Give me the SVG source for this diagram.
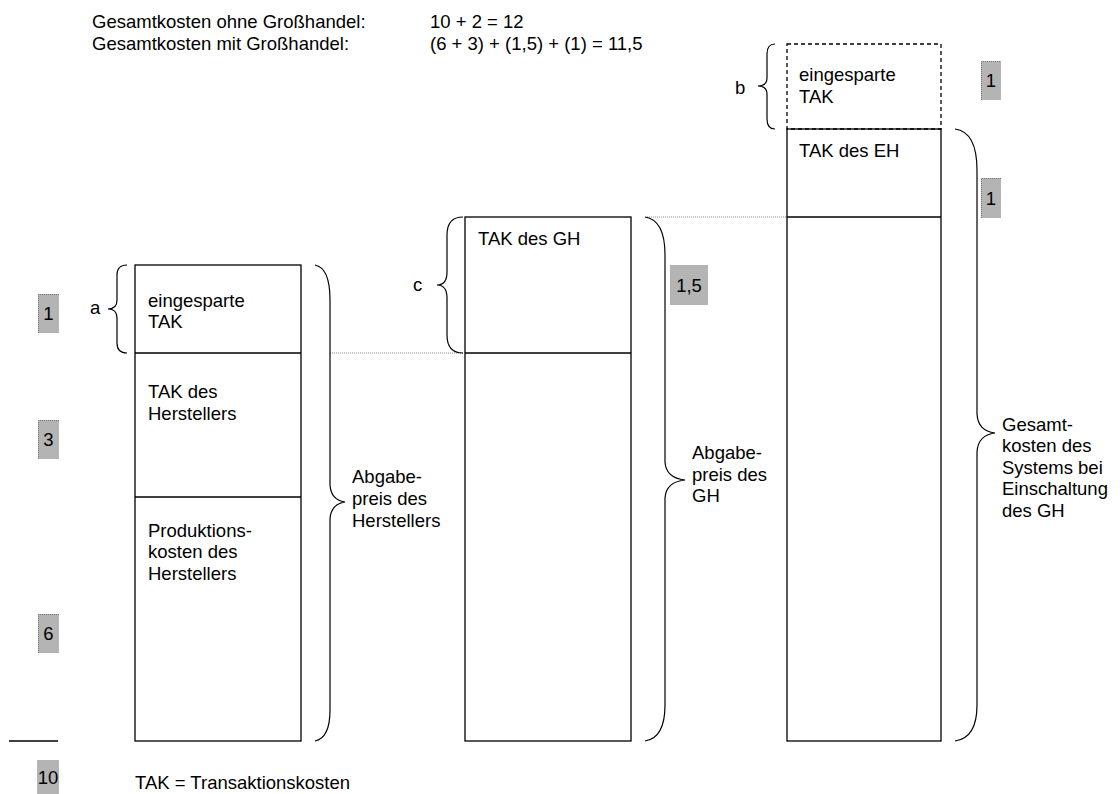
<svg xmlns="http://www.w3.org/2000/svg" width="1120" height="794" viewBox="0 0 1120 794">
<style>
text{font-family:"Liberation Sans",Arial,sans-serif;font-size:18.5px;fill:#000}
.box{fill:#fff;stroke:#000;stroke-width:1.3}
.dash{fill:none;stroke:#000;stroke-width:1.3;stroke-dasharray:4,3}
.div{stroke:#000;stroke-width:1.3}
.brace{fill:none;stroke:#000;stroke-width:1.2}
.dot{stroke:#888;stroke-width:1;stroke-dasharray:1,1}
.val{fill:#b4b4b4;stroke:none}
.valedge{fill:none;stroke:#777;stroke-width:1;stroke-dasharray:1,1}
.c{text-anchor:middle}
</style>
<rect width="1120" height="794" fill="#fff"/>
<g id="header">
<text x="92" y="28">Gesamtkosten ohne Großhandel:</text>
<text x="92" y="50">Gesamtkosten mit Großhandel:</text>
<text x="430" y="28">10 + 2 = 12</text>
<text x="430" y="50">(6 + 3) + (1,5) + (1) = 11,5</text>
</g>
<g id="connectors">
<line class="dot" x1="330" y1="353" x2="463" y2="353"/>
<line class="dot" x1="647" y1="217" x2="787" y2="217"/>
<path class="brace" d="M127,265 Q117,265 117,275 L117,300 Q117,309 108,309 Q117,309 117,318 L117,343 Q117,353 127,353"/>
<path class="brace" d="M463,217 Q447,217 447,235 L447,272 Q447,285 437,285 Q447,285 447,298 L447,335 Q447,353 463,353"/>
<path class="brace" d="M775,44 Q767,44 767,54 L767,78 Q767,86 758,86 Q767,86 767,94 L767,119 Q767,129 775,129"/>
<path class="brace" d="M315,265 Q330,268 330,300 L330,485 Q331,500 345,502 Q331,504 330,519 L330,710 Q330,738 315,741"/>
<path class="brace" d="M645,217 Q665,220 665,255 L665,462 Q666,478 685,480 Q666,482 665,498 L665,705 Q665,738 645,741"/>
<path class="brace" d="M955,129 Q977,132 977,170 L977,414 Q978,431 995,433 Q978,435 977,452 L977,705 Q977,738 955,741"/>
<line class="div" x1="9" y1="741" x2="58" y2="741"/>
</g>
<g id="col1">
<rect class="box" x="135" y="265" width="166" height="476"/>
<line class="div" x1="135" y1="353" x2="301" y2="353"/>
<line class="div" x1="135" y1="497" x2="301" y2="497"/>
<text x="148" y="307">eingesparte</text>
<text x="148" y="328">TAK</text>
<text x="148" y="398">TAK des</text>
<text x="148" y="420">Herstellers</text>
<text x="148" y="537">Produktions-</text>
<text x="148" y="558">kosten des</text>
<text x="148" y="580">Herstellers</text>
</g>
<g id="col2">
<rect class="box" x="465" y="217" width="166" height="524"/>
<line class="div" x1="465" y1="353" x2="631" y2="353"/>
<text x="478" y="245">TAK des GH</text>
</g>
<g id="col3">
<rect class="box" x="787" y="129" width="154" height="612"/>
<rect class="dash" x="787" y="44" width="154" height="85"/>
<line class="div" x1="787" y1="217" x2="941" y2="217"/>
<text x="799" y="81">eingesparte</text>
<text x="799" y="103">TAK</text>
<text x="799" y="157">TAK des EH</text>
</g>
<g id="labels">
<text x="90" y="314">a</text>
<text x="413" y="291">c</text>
<text x="735" y="94">b</text>
<text x="352" y="483">Abgabe-</text>
<text x="352" y="505">preis des</text>
<text x="352" y="527">Herstellers</text>
<text x="692" y="459">Abgabe-</text>
<text x="692" y="481">preis des</text>
<text x="692" y="502">GH</text>
<text x="1002" y="431">Gesamt-</text>
<text x="1002" y="452">kosten des</text>
<text x="1002" y="474">Systems bei</text>
<text x="1002" y="495">Einschaltung</text>
<text x="1002" y="517">des GH</text>
<text x="135" y="789">TAK = Transaktionskosten</text>
</g>
<g id="values">
<rect class="val" x="38" y="294" width="21" height="39"/><path class="valedge" d="M38.5,333 V294.5 H59"/>
<text class="c" x="48.5" y="320">1</text>
<rect class="val" x="38" y="420" width="21" height="39"/><path class="valedge" d="M38.5,459 V420.5 H59"/>
<text class="c" x="48.5" y="446">3</text>
<rect class="val" x="38" y="614" width="21" height="39"/><path class="valedge" d="M38.5,653 V614.5 H59"/>
<text class="c" x="48.5" y="640">6</text>
<rect class="val" x="37" y="760" width="22" height="34"/>
<text class="c" x="48" y="784">10</text>
<rect class="val" x="670" y="265" width="38" height="40"/>
<text class="c" x="689" y="292">1,5</text>
<rect class="val" x="981" y="61" width="20" height="39"/><path class="valedge" d="M981.5,100 V61.5 H1001"/>
<text class="c" x="991" y="87">1</text>
<rect class="val" x="981" y="178" width="20" height="40"/><path class="valedge" d="M981.5,218 V178.5 H1001"/>
<text class="c" x="991" y="205">1</text>
</g>
</svg>
